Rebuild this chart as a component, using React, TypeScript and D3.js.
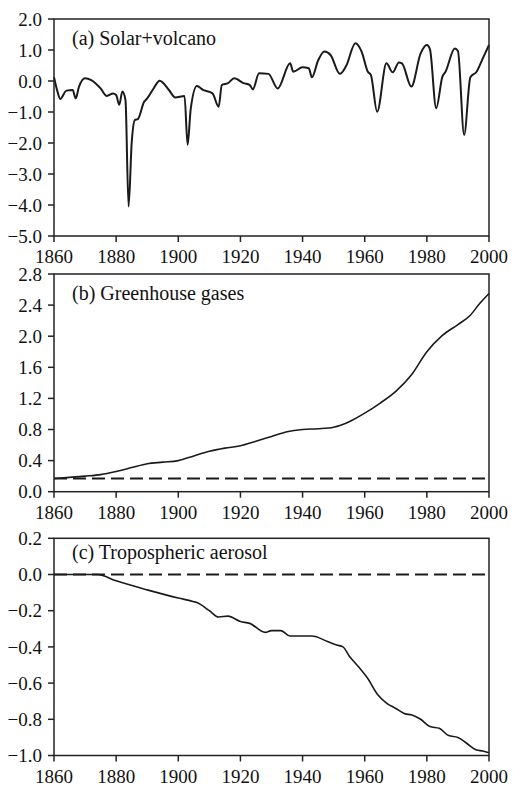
import React from 'react';
import * as d3 from 'd3';

// x axis ticks shared by all three panels
const xTickYears = [1860, 1880, 1900, 1920, 1940, 1960, 1980, 2000];

// (a) solar + volcanic forcing
const solarYears = [
  1860, 1861, 1862, 1864, 1866, 1867, 1868, 1870, 1872, 1875, 1877, 1879, 1880, 1881, 1882, 1883,
  1884, 1885, 1886, 1887, 1889, 1890, 1892, 1894, 1897, 1899, 1902, 1903, 1904, 1906, 1908, 1911,
  1913, 1914, 1916, 1918, 1921, 1923, 1924, 1926, 1929, 1932, 1936, 1937, 1940, 1942, 1943, 1945,
  1947, 1949, 1952, 1954, 1957, 1959, 1961, 1962, 1964, 1967, 1969, 1971, 1972, 1975, 1978, 1980,
  1981, 1983, 1985, 1986, 1989, 1990, 1992, 1994, 1996, 1998, 2000,
];
const solarValues = [
  0.12, -0.3, -0.58, -0.31, -0.29, -0.56, -0.2, 0.09, 0.03, -0.24, -0.48, -0.4, -0.45, -0.77, -0.34, -0.61,
  -4.05, -2.0, -1.26, -1.23, -0.67, -0.56, -0.25, 0.01, -0.29, -0.53, -0.48, -2.06, -0.9, -0.16, -0.29, -0.4,
  -0.83, -0.13, -0.07, 0.09, -0.07, -0.13, -0.27, 0.25, 0.23, -0.24, 0.57, 0.3, 0.44, 0.41, 0.12, 0.66,
  0.95, 0.84, 0.23, 0.48, 1.22, 0.95, 0.3, 0.19, -0.99, 0.57, 0.28, 0.6, 0.57, -0.18, 0.89, 1.16,
  1.02, -0.88, 0.14, 0.3, 1.05, 0.97, -1.74, 0.12, 0.3, 0.73, 1.16,
];
const solarTicks = [2, 1, 0, -1, -2, -3, -4, -5];

// (b) greenhouse gases
const ghgYears = [
  1860, 1870, 1875, 1880, 1885, 1890, 1895, 1900, 1905, 1910, 1915, 1920, 1925, 1930, 1935, 1940,
  1945, 1950, 1955, 1960, 1965, 1970, 1975, 1980, 1985, 1990, 1994, 1997, 2000,
];
const ghgValues = [
  0.17, 0.2, 0.22, 0.26, 0.31, 0.36, 0.38, 0.4, 0.46, 0.52, 0.56, 0.59, 0.65, 0.71, 0.77, 0.8,
  0.81, 0.83, 0.9, 1.01, 1.14, 1.29, 1.5, 1.8, 2.01, 2.15, 2.27, 2.42, 2.55,
];
const ghgBaseline = 0.17;
const ghgTicks = [2.8, 2.4, 2.0, 1.6, 1.2, 0.8, 0.4, 0.0];

// (c) tropospheric aerosol
const aerosolYears = [
  1860, 1874, 1880, 1890, 1900, 1905, 1906, 1910, 1913, 1916, 1920, 1923, 1928, 1930, 1933, 1936,
  1943, 1948, 1951, 1953, 1955, 1958, 1961, 1964, 1967, 1970, 1973, 1975, 1978, 1981, 1984, 1987,
  1990, 1993, 1996, 1998, 2000,
];
const aerosolValues = [
  0, 0, -0.035, -0.085, -0.13, -0.15, -0.155, -0.2, -0.235, -0.23, -0.26, -0.27, -0.32, -0.31, -0.31, -0.34,
  -0.34, -0.37, -0.39, -0.4, -0.45, -0.51, -0.575, -0.66, -0.71, -0.74, -0.77, -0.775, -0.8, -0.84, -0.85, -0.89,
  -0.9, -0.935, -0.97, -0.975, -0.985,
];
const aerosolBaseline = 0;
const aerosolTicks = [0.2, 0.0, -0.2, -0.4, -0.6, -0.8, -1.0];

const FONT = "'Liberation Serif', 'Times New Roman', Times, 'DejaVu Serif', serif";
const LEFT = 54;
const RIGHT = 489;

interface PanelProps {
  top: number;
  bottom: number;
  ticks: number[];
  title: string;
  titleDy: number;
  xs: number[];
  ys: number[];
  baseline?: number;
  lineWidth: number;
}

const Panel: React.FC<PanelProps> = ({ top, bottom, ticks, title, titleDy, xs, ys, baseline, lineWidth }) => {
  const x = d3.scaleLinear().domain([1860, 2000]).range([LEFT, RIGHT]);
  const y = d3.scaleLinear().domain(d3.extent(ticks) as [number, number]).range([bottom, top]);
  const fmt = d3.format('.1f');

  const line = d3.line<number>()
    .x((_, i) => x(xs[i]))
    .y(d => y(d))
    .curve(d3.curveMonotoneX);

  return (
    <g>
      {baseline !== undefined && (
        <line x1={x(1860)} x2={x(2000)} y1={y(baseline)} y2={y(baseline)}
          stroke="#1a1a1a" strokeWidth={1.8} strokeDasharray="13,6" />
      )}
      <path d={line(ys) || ''} fill="none" stroke="#1a1a1a" strokeWidth={lineWidth} strokeLinejoin="round" />
      <rect x={LEFT} y={top} width={RIGHT - LEFT} height={bottom - top} fill="none" stroke="#222" strokeWidth={1.5} />
      {ticks.map(t => (
        <g key={t}>
          <line x1={LEFT - 6} x2={LEFT} y1={y(t)} y2={y(t)} stroke="#222" strokeWidth={1.5} />
          <text x={42} y={y(t)} dy="0.35em" textAnchor="end" fontSize={19} style={{ fontFamily: FONT }} fill="#111">
            {fmt(t)}
          </text>
        </g>
      ))}
      {xTickYears.map(yr => (
        <g key={yr}>
          <line x1={x(yr)} x2={x(yr)} y1={bottom} y2={bottom + 6} stroke="#222" strokeWidth={1.5} />
          <text x={x(yr)} y={bottom + 27} textAnchor="middle" fontSize={19} style={{ fontFamily: FONT }} fill="#111">
            {yr}
          </text>
        </g>
      ))}
      <text x={72} y={top + titleDy} fontSize={20} style={{ fontFamily: FONT }} fill="#111">{title}</text>
    </g>
  );
};

export default function App() {
  return (
    <svg width={514} height={785} style={{ position: 'absolute', left: 0, top: 0, background: '#fff' }}>
      <Panel top={19} bottom={236} ticks={solarTicks} title="(a) Solar+volcano" titleDy={26}
        xs={solarYears} ys={solarValues} lineWidth={2} />
      <Panel top={274} bottom={491.7} ticks={ghgTicks} title="(b) Greenhouse gases" titleDy={26}
        xs={ghgYears} ys={ghgValues} baseline={ghgBaseline} lineWidth={1.6} />
      <Panel top={538.3} bottom={755.5} ticks={aerosolTicks} title="(c) Tropospheric aerosol" titleDy={21}
        xs={aerosolYears} ys={aerosolValues} baseline={aerosolBaseline} lineWidth={1.6} />
    </svg>
  );
}
